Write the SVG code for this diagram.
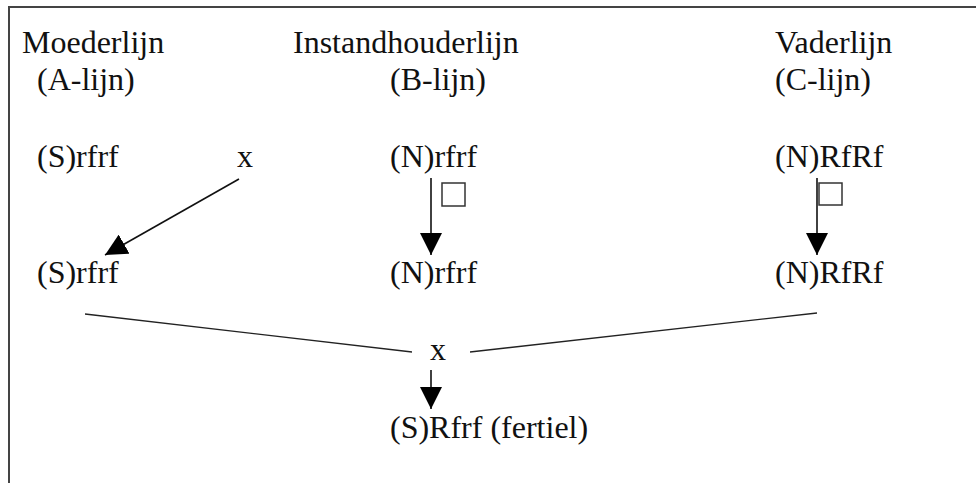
<svg xmlns="http://www.w3.org/2000/svg" width="976" height="483" viewBox="0 0 976 483">
<style>
text { font-family: "Liberation Serif", "Times New Roman", serif; font-size: 32px; fill: #111; }
.frame { fill: none; stroke: #444; stroke-width: 2; }
.conn { fill: none; stroke: #111; stroke-width: 1.6; }
.cross { fill: none; stroke: #222; stroke-width: 1.3; }
.box { fill: none; stroke: #333; stroke-width: 1.5; }
</style>
<defs>
<marker id="ah" markerUnits="userSpaceOnUse" markerWidth="22" markerHeight="22" viewBox="0 0 20 20" refX="20" refY="10" orient="auto">
<path d="M0,0 L20,10 L0,20 Z" fill="#000"/>
</marker>
</defs>
<rect width="976" height="483" fill="#fff"/>
<path class="frame" d="M9,483 V7 H976"/>

<g id="moederlijn"><text x="22" y="53">Moederlijn</text><text x="37" y="90">(A-lijn)</text></g>
<g id="instandhouderlijn"><text x="293" y="53">Instandhouderlijn</text><text x="390" y="90">(B-lijn)</text></g>
<g id="vaderlijn"><text x="775" y="53">Vaderlijn</text><text x="775" y="90">(C-lijn)</text></g>

<g id="a-top"><text x="37" y="167">(S)rfrf</text></g>
<g id="cross-top"><text x="237" y="167">x</text></g>
<g id="b-top"><text x="390" y="167">(N)rfrf</text></g>
<g id="c-top"><text x="775" y="167">(N)RfRf</text></g>

<g id="a-bottom"><text x="37" y="283">(S)rfrf</text></g>
<g id="b-bottom"><text x="390" y="283">(N)rfrf</text></g>
<g id="c-bottom"><text x="775" y="283">(N)RfRf</text></g>

<g id="cross-mid"><text x="430" y="360">x</text></g>
<g id="result"><text x="390" y="438">(S)Rfrf (fertiel)</text></g>

<g id="box-b"><rect class="box" x="442" y="183" width="23" height="23"/></g>
<g id="box-c"><rect class="box" x="819" y="183" width="23" height="22"/></g>

<g id="connectors">
<line class="conn" x1="239" y1="179" x2="105" y2="255" marker-end="url(#ah)"/>
<line class="conn" x1="431" y1="178" x2="431" y2="255" marker-end="url(#ah)"/>
<line class="conn" x1="817" y1="178" x2="817" y2="255" marker-end="url(#ah)"/>
<line class="cross" x1="85" y1="314" x2="412" y2="352"/>
<line class="cross" x1="470" y1="352" x2="817" y2="313"/>
<line class="conn" x1="431" y1="370" x2="431" y2="409" marker-end="url(#ah)"/>
</g>
</svg>
